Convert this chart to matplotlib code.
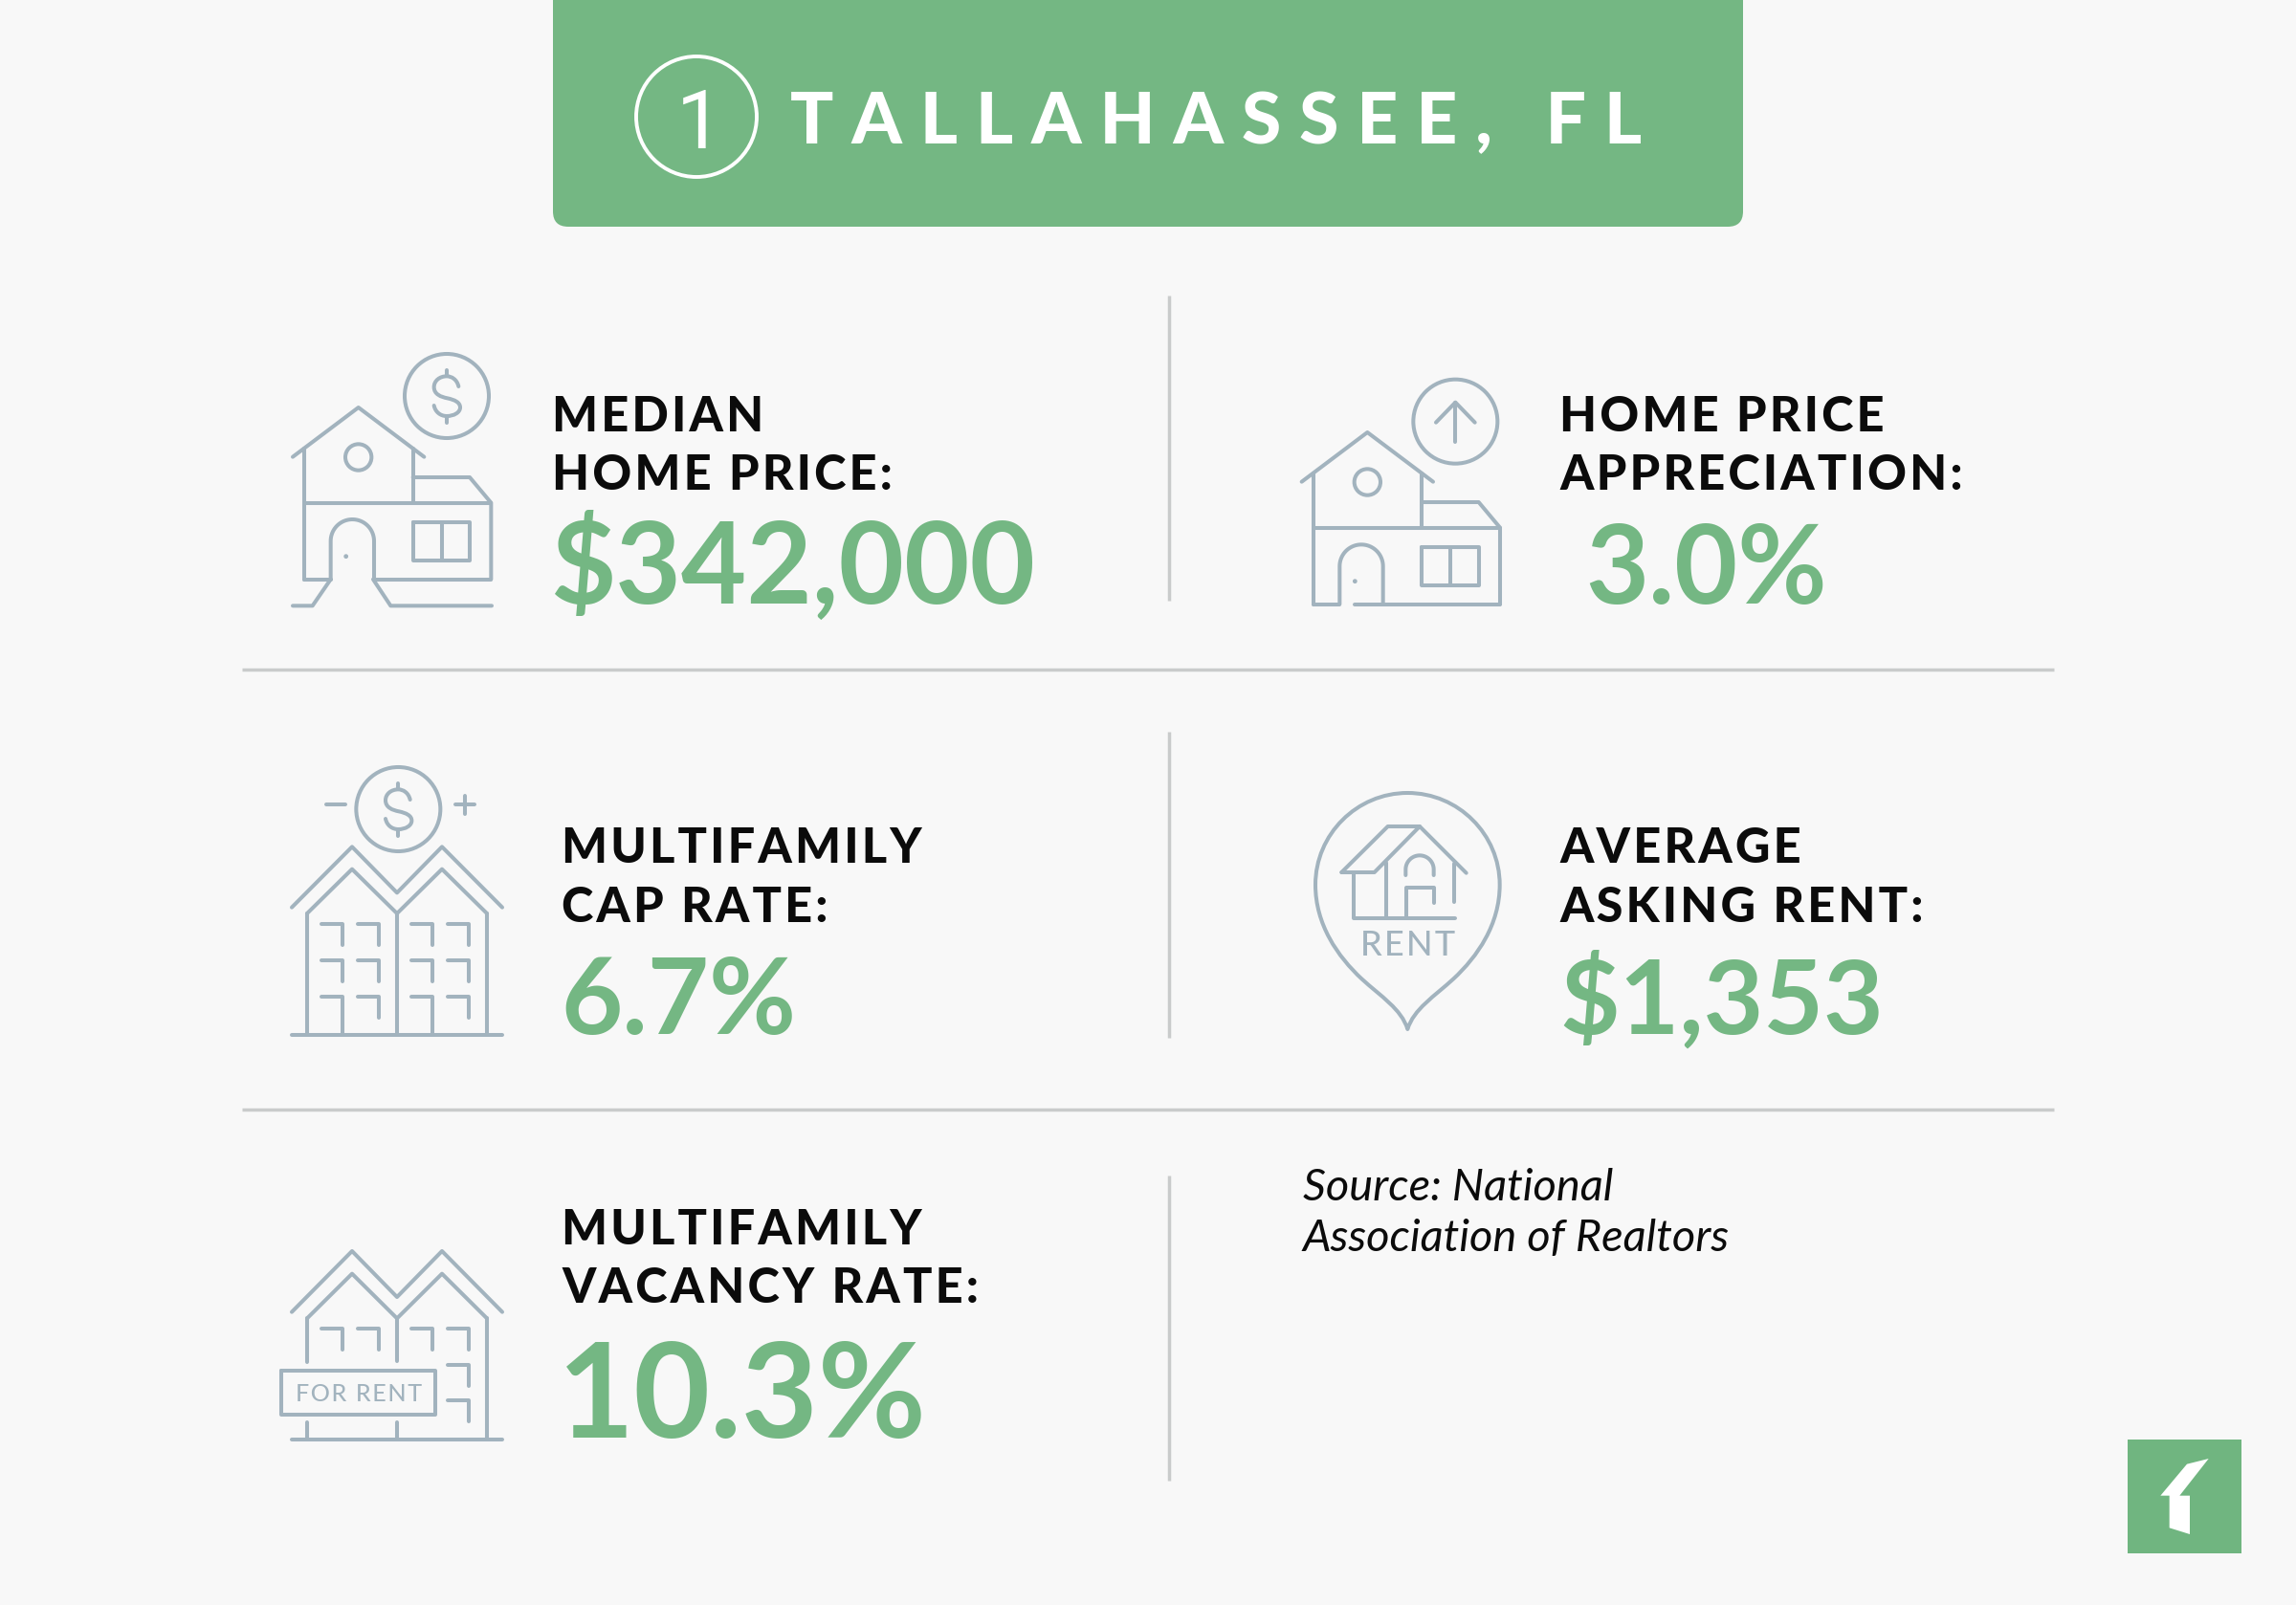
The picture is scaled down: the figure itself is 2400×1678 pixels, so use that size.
import numpy as np
import matplotlib
matplotlib.use("Agg")
import matplotlib.pyplot as plt
from matplotlib.path import Path
from matplotlib.patches import Circle, FancyBboxPatch, PathPatch, Polygon, Rectangle

# Text and values
city = "TALLAHASSEE, FL"
rank = "1"
labels = [
    ["MEDIAN", "HOME PRICE:"],
    ["HOME PRICE", "APPRECIATION:"],
    ["MULTIFAMILY", "CAP RATE:"],
    ["AVERAGE", "ASKING RENT:"],
    ["MULTIFAMILY", "VACANCY RATE:"],
]
values = ["$342,000", "3.0%", "6.7%", "$1,353", "10.3%"]
source = ["Source: National", "Association of Realtors"]

BG = "#F8F8F8"
GREEN = "#74B783"
ICON = "#A2B3BE"
RULE = "#C9CBCB"
INK = "#0B0B0B"
FONT = "Lato"
PX = 0.72  # points per pixel at dpi=100
LW = 2.9

fig = plt.figure(figsize=(24, 16.78), dpi=100, facecolor=BG)
ax = fig.add_axes([0, 0, 1, 1])
ax.set_xlim(0, 2400)
ax.set_ylim(1678, 0)
ax.axis("off")


def spaced(s, sep):
    # matplotlib has no letter spacing, so pad with thin spaces
    return sep.join(s)


# Icon coordinates were measured on 3x crops, so each icon has an origin
class Icon:
    def __init__(self, ox, oy):
        self.ox = ox
        self.oy = oy

    def xy(self, pts):
        pts = np.asarray(pts, dtype=float)
        return pts / 3 + [self.ox, self.oy]

    def line(self, *pts, lw=LW):
        p = self.xy(pts)
        ax.plot(p[:, 0], p[:, 1], color=ICON, lw=lw, solid_capstyle="round", solid_joinstyle="round")

    def circle(self, cx, cy, r, lw=LW, fill=False):
        c = self.xy([(cx, cy)])[0]
        ax.add_patch(Circle(c, r / 3, fill=fill, color=ICON, lw=lw))

    def arch(self, cx, cy, r, left_y, right_y):
        # door shape: up the left side, over the top, down the right side
        t = np.linspace(np.pi, 2 * np.pi, 40)
        pts = [(cx - r, left_y)] + list(zip(cx + r * np.cos(t), cy + r * np.sin(t))) + [(cx + r, right_y)]
        self.line(*pts)

    def curve(self, pts, codes):
        patch = PathPatch(Path(self.xy(pts), codes), fill=False, edgecolor=ICON, lw=LW, capstyle="round", joinstyle="round")
        ax.add_patch(patch)

    def dollar(self, cx, cy):
        self.circle(cx, cy, 132)
        self.line((cx, cy - 82), (cx, cy - 62))
        self.line((cx, cy + 63), (cx, cy + 83))
        C = Path.CURVE4
        pts = [(cx + 37, cy - 30), (cx + 32, cy - 52), (cx + 15, cy - 62), (cx, cy - 62),
               (cx - 22, cy - 62), (cx - 40, cy - 48), (cx - 40, cy - 28),
               (cx - 40, cy - 5), (cx - 18, cy + 3), (cx + 2, cy + 7),
               (cx + 25, cy + 12), (cx + 42, cy + 20), (cx + 42, cy + 36),
               (cx + 42, cy + 52), (cx + 22, cy + 63), (cx, cy + 63),
               (cx - 20, cy + 63), (cx - 36, cy + 50), (cx - 40, cy + 30)]
        self.curve(pts, [Path.MOVETO] + [C] * 18)


def house_top(ic, dx, dy):
    ic.line((78 + dx, 413 + dy), (284 + dx, 258 + dy), (490 + dx, 413 + dy))
    ic.line((115 + dx, 388 + dy), (115 + dx, 797 + dy))
    ic.line((455 + dx, 388 + dy), (455 + dx, 557 + dy))
    ic.line((115 + dx, 557 + dy), (700 + dx, 557 + dy))
    ic.line((455 + dx, 477 + dy), (633 + dx, 477 + dy), (700 + dx, 557 + dy), (700 + dx, 797 + dy))
    ic.circle(284 + dx, 414 + dy, 41)
    ic.line((455 + dx, 617 + dy), (634 + dx, 617 + dy), (634 + dx, 739 + dy), (455 + dx, 739 + dy), (455 + dx, 617 + dy))
    ic.line((545 + dx, 617 + dy), (545 + dx, 739 + dy))
    ic.circle(245 + dx, 725 + dy, 5, lw=1, fill=True)


# Banner
ax.add_patch(FancyBboxPatch((578, -60), 1244, 297, boxstyle="round,pad=0,rounding_size=16", fc=GREEN, ec="none"))
ax.add_patch(Circle((728, 122), 63, fill=False, ec="white", lw=2.8))
ax.text(731, 155, rank, color="white", fontsize=86 * PX, family="Roboto", weight="regular", ha="center", va="baseline")
ax.text(826, 150, spaced(city, "\u2009\u200a\u200a"), color="white", fontsize=75 * PX, family=FONT, weight="black", ha="left", va="baseline")

# Rules
for y in [700, 1160]:
    ax.plot([253, 2147], [y, y], color=RULE, lw=2.5, solid_capstyle="butt")
for y0, y1 in [(309, 628), (765, 1085), (1229, 1548)]:
    ax.plot([1222, 1222], [y0, y1], color=RULE, lw=2.5, solid_capstyle="butt")

# Labels and numbers
label_pos = [(577, 451), (1630, 451), (587, 902), (1630, 902), (587, 1301)]
value_pos = [(575, 631), (1657, 631), (586, 1081), (1630, 1081), (583, 1503)]
value_px = [118, 114, 111, 108, 138]
for lab, val, (lx, ly), (vx, vy), vs in zip(labels, values, label_pos, value_pos, value_px):
    for i, line in enumerate(lab):
        ax.text(lx, ly + i * 61.5, spaced(line, "\u200a"), color=INK, fontsize=50.5 * PX, family=FONT,
                weight="black", ha="left", va="baseline")
    ax.text(vx, vy, val, color=GREEN, fontsize=vs * PX, family=FONT, weight="bold", ha="left", va="baseline")

ax.text(1362, 1255, source[0], color=INK, fontsize=47 * PX, family=FONT, style="italic", ha="left", va="baseline")
ax.text(1362, 1308, source[1], color=INK, fontsize=47 * PX, family=FONT, style="italic", ha="left", va="baseline")

# Median home price icon
ic = Icon(280, 340)
house_top(ic, 0, 0)
ic.dollar(561, 222)
ic.line((115, 797), (197, 797))
ic.arch(265, 677, 68, 797, 797)
ic.line((333, 797), (700, 797))
ic.line((197, 797), (140, 880), (78, 880))
ic.line((330, 797), (385, 880), (702, 880))

# Appreciation icon
ic = Icon(1340, 380)
house_top(ic, -16, -42)
ic.circle(544, 182, 132)
ic.line((544, 245), (544, 122))
ic.line((483, 185), (544, 122), (605, 185))
ic.line((99, 755), (181, 755))
ic.arch(249, 636, 68, 755, 755)
ic.line((229, 755), (684, 755))

# Cap rate icon
ic = Icon(280, 780)
ic.dollar(409, 198)
ic.line((182, 184), (244, 184))
ic.line((587, 184), (648, 184))
ic.line((618, 155), (618, 214))
ic.line((75, 506), (264, 316), (405, 460), (546, 316), (735, 506))
ic.line((123, 525), (264, 386), (405, 525), (546, 386), (687, 525))
for x in [123, 405, 687]:
    ic.line((x, 525), (x, 906))
ic.line((75, 906), (735, 906))
for y in [558, 671, 785]:
    for x in [168, 282, 450, 564]:
        end = 906 if y == 785 and x in (168, 450) else y + 67
        ic.line((x, y), (x + 67, y), (x + 67, end))

# Rent pin icon
ic = Icon(1340, 810)
C = Path.CURVE4
half = [(394, 57), (235, 57), (105, 187), (105, 345), (105, 470), (175, 570), (250, 640), (310, 695), (375, 735), (394, 798)]
other = [(788 - x, y) for x, y in half[::-1][1:]]
ic.curve(half + other, [Path.MOVETO] + [C] * 18)
ic.line((187, 306), (332, 162), (432, 162), (578, 308))
ic.line((187, 306), (290, 306), (432, 162))
ic.line((224, 306), (224, 450), (542, 450))
ic.line((326, 275), (326, 450))
ic.line((540, 280), (540, 400))
ic.arch(432, 297, 44, 315, 315)
ic.line((389, 450), (389, 355), (476, 355), (476, 403))
ax.text(1340 + 394 / 3, 810 + 568 / 3, spaced("RENT", "\u200a"), color=ICON, fontsize=36 * PX, family=FONT,
        weight="medium", ha="center", va="baseline")

# For rent icon
ic = Icon(280, 1290)
ic.line((75, 245), (264, 54), (405, 198), (546, 54), (735, 245))
ic.line((123, 265), (264, 125), (405, 265), (546, 125), (687, 265))
ic.line((123, 265), (123, 402))
ic.line((405, 265), (405, 400))
ic.line((687, 265), (687, 645))
ic.line((75, 645), (735, 645))
ic.line((123, 590), (123, 645))
ic.line((405, 590), (405, 645))
for x in [168, 282, 450, 564]:
    ic.line((x, 297), (x + 67, 297), (x + 67, 364))
for y in [410, 522]:
    ic.line((564, y), (631, y), (631, y + 67))
ic.line((41, 428), (525, 428), (525, 567), (41, 567), (41, 428))
ax.text(280 + 285 / 3, 1290 + 525 / 3, spaced("FOR RENT", "\u200a"), color=ICON, fontsize=25 * PX, family=FONT,
        weight="medium", ha="center", va="baseline")

# Logo
ax.add_patch(Rectangle((2224, 1505), 119, 119, fc="#70B580", ec="none"))
logo = np.array([(326, 105), (258, 122), (175, 221), (203, 221), (203, 322), (267, 342), (267, 221), (235, 221)]) / 3 + [2200, 1490]
ax.add_patch(Polygon(logo, closed=True, fc="white", ec="none"))

fig.savefig("out.png", dpi=100, facecolor=BG)
